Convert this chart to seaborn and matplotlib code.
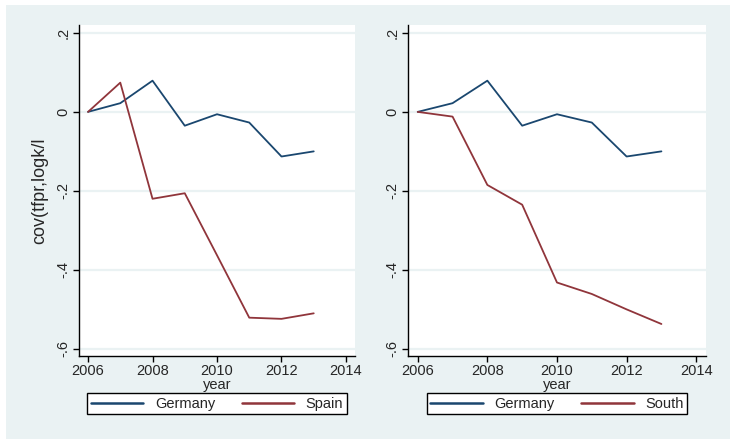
import numpy as np
import pandas as pd
import matplotlib
matplotlib.use("Agg")
import matplotlib.pyplot as plt
from matplotlib.patches import Rectangle
from matplotlib.lines import Line2D
import seaborn as sns

sns.set_style("white")
plt.rcParams['font.family'] = ['Liberation Sans', 'DejaVu Sans']

years = [2006, 2007, 2008, 2009, 2010, 2011, 2012, 2013]
germany = [0.0, 0.022, 0.079, -0.035, -0.006, -0.027, -0.113, -0.100]
spain = [0.0, 0.074, -0.220, -0.206, -0.363, -0.521, -0.524, -0.510]
south = [0.0, -0.012, -0.185, -0.235, -0.432, -0.461, -0.500, -0.537]

yticks = [0.2, 0.0, -0.2, -0.4, -0.6]
ytick_labels = ['.2', '0', '-.2', '-.4', '-.6']
xticks = [2006, 2008, 2010, 2012, 2014]

navy = '#1a476f'
maroon = '#90353b'
bg = '#eaf2f3'


def draw_panel(ax, other, other_name, ylabel):
    df = pd.DataFrame({
        'year': years * 2,
        'value': germany + other,
        'country': ['Germany'] * len(years) + [other_name] * len(years),
    })
    for y in yticks:
        ax.axhline(y, color=bg, lw=1.6, zorder=0)
    sns.lineplot(data=df, x='year', y='value', hue='country',
                 palette={'Germany': navy, other_name: maroon},
                 ax=ax, legend=False, lw=1.3)
    ax.set_xlim(2005.72, 2014.28)
    ax.set_ylim(-0.618, 0.22)
    ax.set_xticks(xticks)
    ax.set_xticklabels([str(x) for x in xticks], fontsize=10.5)
    ax.set_yticks(yticks)
    ax.set_yticklabels(ytick_labels, fontsize=10.5, rotation=90, va='center')
    ax.set_xlabel('year', fontsize=10.5, labelpad=0)
    ax.set_ylabel(ylabel, fontsize=13, labelpad=6)
    ax.set_facecolor('white')
    for s in ['top', 'right']:
        ax.spines[s].set_visible(False)
    for s in ['left', 'bottom']:
        ax.spines[s].set_color('black')
        ax.spines[s].set_linewidth(1)
    ax.tick_params(axis='both', direction='out', length=4, width=1,
                   color='black', pad=2, left=True, bottom=True)
    handles = [Line2D([0], [0], color=navy, lw=1.8),
               Line2D([0], [0], color=maroon, lw=1.8)]
    leg = ax.legend(handles, ['Germany', other_name], ncol=2,
                    loc='upper center', bbox_to_anchor=(0.5, -0.112),
                    fontsize=10.5, frameon=True, fancybox=False,
                    edgecolor='black', framealpha=1, handlelength=3.6,
                    handletextpad=0.8, columnspacing=1.8,
                    borderpad=0.25, borderaxespad=0)
    leg.get_frame().set_linewidth(1)


fig = plt.figure(figsize=(7.35, 4.42), dpi=100)
fig.patch.set_facecolor('white')
fig.patches.append(Rectangle((0.008, 0.007), 0.985, 0.982,
                             transform=fig.transFigure, facecolor=bg,
                             edgecolor='none', zorder=-1))

ax1 = fig.add_axes([0.1075, 0.1946, 0.3755, 0.7489])
ax2 = fig.add_axes([0.5551, 0.1946, 0.4054, 0.7489])

draw_panel(ax1, spain, 'Spain', 'cov(tfpr,logk/l')
draw_panel(ax2, south, 'South', '')

fig.savefig('out.png', dpi=100)
